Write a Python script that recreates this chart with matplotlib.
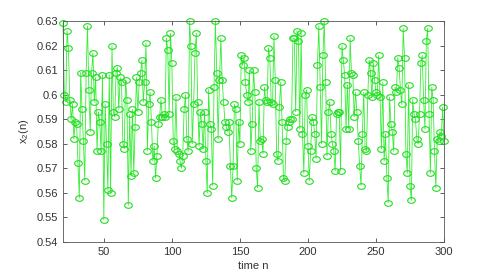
import matplotlib
matplotlib.use('Agg')
import matplotlib.pyplot as plt
import numpy as np
from matplotlib.path import Path

# time steps and the x2(n) series
n = np.arange(20, 301)
x2 = [
    0.629, 0.600, 0.597, 0.626, 0.619, 0.598, 0.590, 0.596, 0.582, 0.589,
    0.588, 0.572, 0.558, 0.609, 0.594, 0.581, 0.565, 0.609, 0.628, 0.602,
    0.585, 0.609, 0.617, 0.597, 0.607, 0.577, 0.593, 0.589, 0.577, 0.608,
    0.549, 0.596, 0.580, 0.561, 0.608, 0.560, 0.620, 0.593, 0.591, 0.609,
    0.611, 0.594, 0.607, 0.605, 0.580, 0.578, 0.606, 0.598, 0.555, 0.592,
    0.567, 0.594, 0.568, 0.587, 0.607, 0.593, 0.605, 0.609, 0.614, 0.597,
    0.605, 0.621, 0.577, 0.596, 0.601, 0.589, 0.573, 0.579, 0.566, 0.575,
    0.588, 0.591, 0.598, 0.591, 0.592, 0.591, 0.623, 0.618, 0.592, 0.625,
    0.613, 0.581, 0.578, 0.599, 0.577, 0.576, 0.573, 0.570, 0.575, 0.594,
    0.600, 0.582, 0.577, 0.630, 0.620, 0.580, 0.596, 0.617, 0.625, 0.597,
    0.579, 0.593, 0.588, 0.578, 0.593, 0.573, 0.560, 0.602, 0.588, 0.586,
    0.563, 0.603, 0.630, 0.609, 0.582, 0.606, 0.623, 0.606, 0.597, 0.589,
    0.587, 0.585, 0.589, 0.571, 0.558, 0.571, 0.596, 0.594, 0.565, 0.589,
    0.580, 0.616, 0.612, 0.615, 0.605, 0.600, 0.597, 0.610, 0.577, 0.588,
    0.610, 0.601, 0.570, 0.562, 0.597, 0.581, 0.582, 0.576, 0.603, 0.598,
    0.597, 0.619, 0.615, 0.597, 0.596, 0.624, 0.606, 0.576, 0.573, 0.595,
    0.605, 0.589, 0.566, 0.565, 0.581, 0.587, 0.589, 0.590, 0.590, 0.623,
    0.623, 0.593, 0.626, 0.622, 0.586, 0.625, 0.584, 0.568, 0.600, 0.602,
    0.579, 0.565, 0.577, 0.591, 0.589, 0.584, 0.574, 0.612, 0.628, 0.603,
    0.580, 0.616, 0.630, 0.605, 0.575, 0.593, 0.597, 0.584, 0.580, 0.577,
    0.569, 0.592, 0.593, 0.593, 0.569, 0.620, 0.614, 0.608, 0.586, 0.604,
    0.586, 0.623, 0.609, 0.608, 0.591, 0.601, 0.593, 0.581, 0.571, 0.563,
    0.584, 0.601, 0.578, 0.577, 0.600, 0.614, 0.609, 0.599, 0.613, 0.606,
    0.601, 0.600, 0.616, 0.599, 0.578, 0.605, 0.573, 0.584, 0.566, 0.556,
    0.599, 0.588, 0.585, 0.577, 0.603, 0.601, 0.615, 0.611, 0.602, 0.596,
    0.627, 0.615, 0.576, 0.568, 0.604, 0.563, 0.557, 0.598, 0.592, 0.590,
    0.582, 0.580, 0.592, 0.613, 0.616, 0.598, 0.586, 0.622, 0.627, 0.592,
    0.568, 0.603, 0.598, 0.577, 0.562, 0.582, 0.581, 0.585, 0.583, 0.595,
    0.581,
]
xticks = [50, 100, 150, 200, 250, 300]
yticks = [0.54, 0.55, 0.56, 0.57, 0.58, 0.59, 0.60, 0.61, 0.62, 0.63]
ytick_labels = ['0.54', '0.55', '0.56', '0.57', '0.58', '0.59', '0.6', '0.61', '0.62', '0.63']

plt.rcParams['font.family'] = ['Liberation Sans', 'DejaVu Sans']
plt.rcParams['mathtext.fontset'] = 'custom'
plt.rcParams['mathtext.rm'] = 'Liberation Sans'
plt.rcParams['mathtext.it'] = 'Liberation Sans'

# squashed circle, like the stretched markers in the original
t = np.linspace(0, 2 * np.pi, 40)
ellipse = Path(np.column_stack([1.35 * np.cos(t), np.sin(t)]))

fig = plt.figure(figsize=(4.91, 2.73), dpi=100)
ax = fig.add_axes([0.1283, 0.1136, 0.776, 0.8094])

ax.plot(n, x2, color='#33ee33', linewidth=0.6, marker=ellipse, markersize=5.5,
        markerfacecolor='none', markeredgecolor='#22dd22', markeredgewidth=0.8,
        clip_on=False)

ax.set_xlim(20, 300)
ax.set_ylim(0.54, 0.63)
ax.set_xticks(xticks)
ax.set_yticks(yticks)
ax.set_yticklabels(ytick_labels)
ax.tick_params(direction='in', top=True, right=True, length=3, width=0.6,
               labelsize=8, colors='#444444', labelcolor='#333333')
for s in ax.spines.values():
    s.set_color('#555555')
    s.set_linewidth(0.6)

ax.set_xlabel('time n', fontsize=8, color='#333333', labelpad=3)
ax.set_ylabel('x$_2$(n)', fontsize=8, color='#333333', labelpad=4)

fig.savefig('out.png', dpi=100)
